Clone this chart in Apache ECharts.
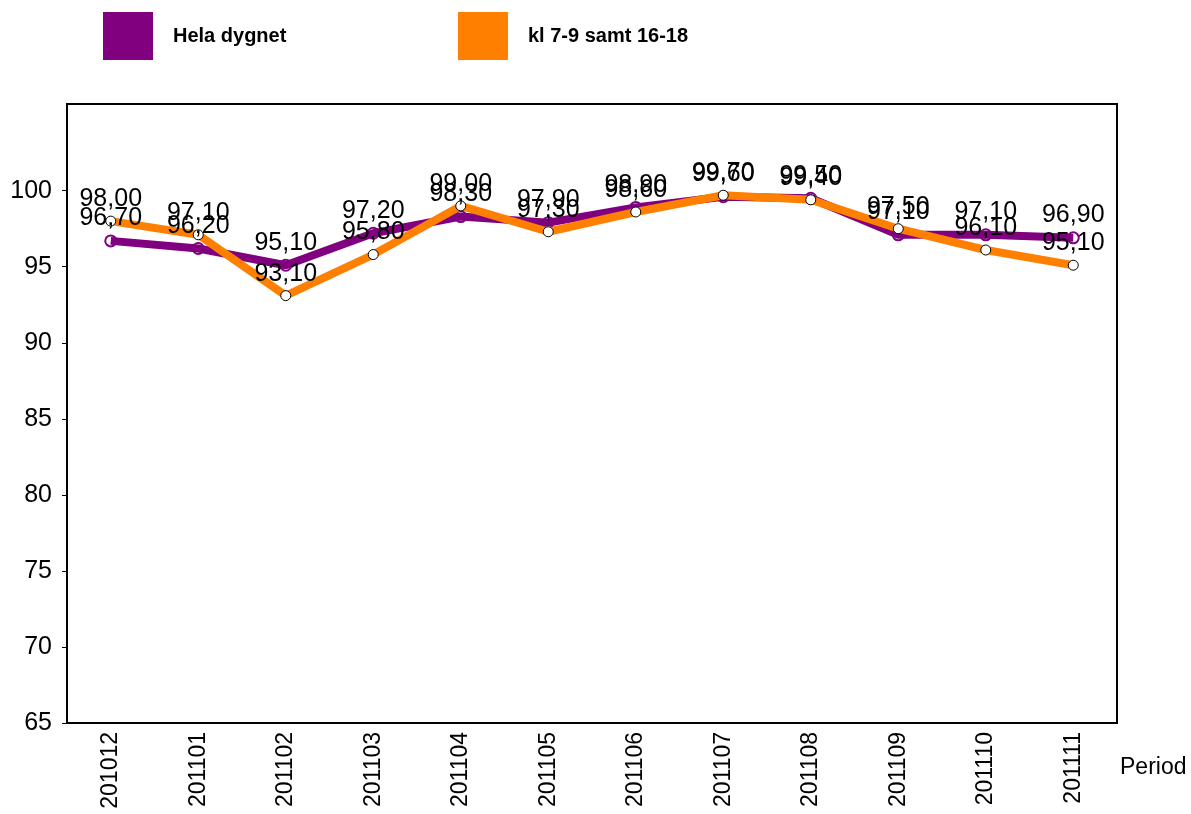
<!DOCTYPE html>
<html>
<head>
<meta charset="utf-8">
<script src="https://cdn.jsdelivr.net/npm/echarts@6/dist/echarts.min.js"></script>
<style>html,body{margin:0;padding:0;background:#fff}#c{width:1191px;height:814px}</style>
</head>
<body>
<div id="c"></div>
<script>
const categories = ['201012','201101','201102','201103','201104','201105','201106','201107','201108','201109','201110','201111'];
const helaDygnet = [96.7, 96.2, 95.1, 97.2, 98.3, 97.9, 98.9, 99.6, 99.5, 97.1, 97.1, 96.9];
const rusning = [98.0, 97.1, 93.1, 95.8, 99.0, 97.3, 98.6, 99.7, 99.4, 97.5, 96.1, 95.1];
const yTicks = [65, 70, 75, 80, 85, 90, 95, 100];
const seriesNames = ['Hela dygnet', 'kl 7-9 samt 16-18'];
const purple = '#800080', orange = '#FF8000';
const font = 'Liberation Sans, Arial, sans-serif';
const fmt = p => p.value.toFixed(2).replace('.', ',');
const labelStyle = {show: true, position: 'top', distance: 4, formatter: fmt, fontSize: 25, color: '#000', fontFamily: font};
const legendText = {fontSize: 20, fontWeight: 'bold', color: '#000', fontFamily: font, padding: [0, 0, 0, 15]};

const chart = echarts.init(document.getElementById('c'), null, {renderer: 'canvas'});
chart.setOption({
  animation: false,
  backgroundColor: '#fff',
  grid: {left: 67, right: 74, top: 104, bottom: 91, show: true, borderColor: '#000', borderWidth: 2, backgroundColor: 'transparent'},
  legend: [
    {data: [{name: seriesNames[0], itemStyle: {color: purple, borderWidth: 0}}], left: 103, top: 12, padding: 0,
     itemWidth: 50, itemHeight: 48, icon: 'rect', textStyle: legendText},
    {data: [{name: seriesNames[1], itemStyle: {color: orange, borderWidth: 0}}], left: 458, top: 12, padding: 0,
     itemWidth: 50, itemHeight: 48, icon: 'rect', textStyle: legendText}
  ],
  graphic: [{type: 'text', left: 1120, top: 756, style: {text: 'Period', fontSize: 23, fill: '#000', fontFamily: font}}],
  xAxis: {
    type: 'category', data: categories, boundaryGap: true,
    axisLine: {show: true, lineStyle: {color: '#000', width: 2}},
    axisTick: {show: false},
    axisLabel: {rotate: 90, margin: 9, fontSize: 23, color: '#000', fontFamily: font}
  },
  yAxis: {
    type: 'value', min: 65, max: 105.7,
    axisLine: {show: true, lineStyle: {color: '#000', width: 2}},
    axisTick: {show: true, length: 5, lineStyle: {color: '#000', width: 1}, customValues: yTicks},
    axisLabel: {fontSize: 25, color: '#000', fontFamily: font, margin: 15, customValues: yTicks},
    splitLine: {show: false}
  },
  series: [
    {type: 'scatter', data: helaDygnet, symbol: 'circle', symbolSize: 11, z: 2, silent: true,
     itemStyle: {color: '#fff', borderColor: purple, borderWidth: 2, opacity: 1}},
    {name: seriesNames[0], type: 'line', data: helaDygnet, showSymbol: false, z: 3,
     lineStyle: {color: purple, width: 8}, itemStyle: {color: purple}},
    {name: seriesNames[1], type: 'line', data: rusning, symbol: 'circle', symbolSize: 10, z: 4,
     lineStyle: {color: orange, width: 8}, itemStyle: {color: '#fff', borderColor: '#000', borderWidth: 1},
     label: labelStyle},
    {type: 'scatter', data: helaDygnet, symbolSize: 12, z: 5, silent: true,
     itemStyle: {color: 'rgba(0,0,0,0)', opacity: 1}, label: labelStyle}
  ]
});
</script>
</body>
</html>
